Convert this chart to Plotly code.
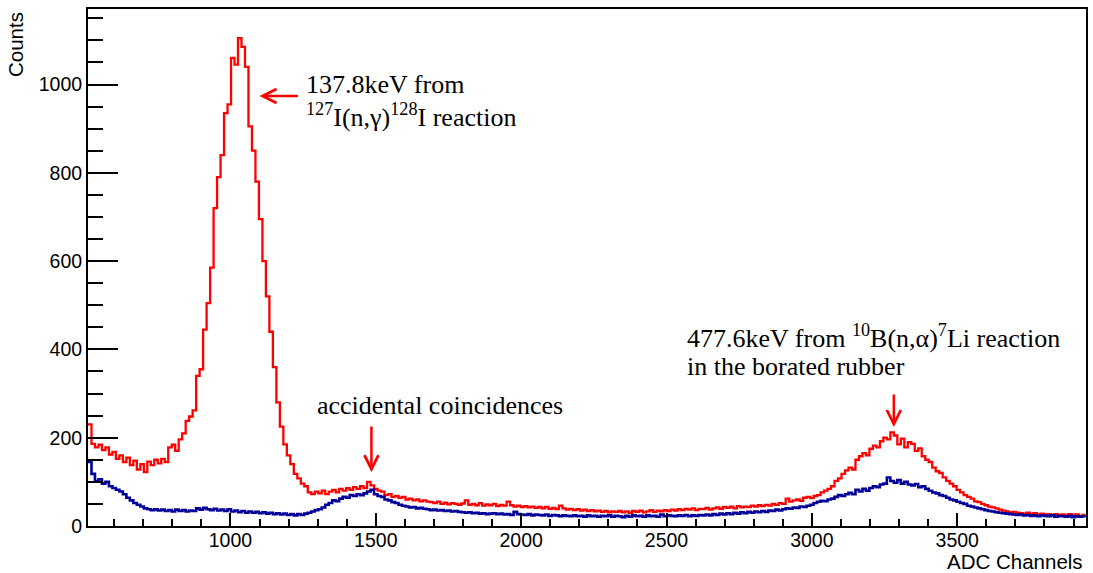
import plotly.graph_objects as go

# ---------------- data ----------------
bin_start = 510      # first bin lower edge (ADC channel)
bin_width = 12       # channels per bin

red_counts = [
    230, 186, 178, 184, 172, 178, 162, 168, 152, 160,
    145, 155, 138, 148, 128, 140, 122, 146, 138, 150,
    142, 152, 145, 178, 184, 170, 196, 210, 238, 248,
    262, 340, 355, 445, 505, 585, 720, 790, 840, 935,
    955, 1060, 1045, 1105, 1085, 1040, 905, 850, 780, 695,
    600, 520, 440, 360, 280, 225, 185, 160, 140, 118,
    108, 96, 90, 76, 72, 78, 74, 80, 72, 78,
    82, 76, 84, 80, 86, 82, 88, 84, 90, 86,
    100, 92, 84, 80, 78, 70, 72, 66, 68, 64,
    66, 60, 62, 58, 60, 56, 58, 55, 54, 52,
    55, 50, 53, 49, 52, 50, 48, 51, 58, 48,
    50, 47, 52, 46, 49, 47, 50, 45, 48, 46,
    55, 47, 44, 46, 43, 45, 42, 44, 41, 43,
    40, 43, 39, 41, 38, 46, 40, 37, 39, 36,
    38, 35, 37, 34, 36, 33, 35, 32, 34, 31,
    33, 32, 34, 31, 33, 30, 34, 32, 35, 31,
    33, 36, 32, 35, 33, 36, 34, 37, 35, 38,
    36, 39, 37, 40, 36, 39, 38, 41, 37, 40,
    42, 39, 43, 41, 44, 40, 45, 42, 44, 43,
    46, 44, 47, 45, 48, 46, 50, 48, 52, 50,
    62, 55, 58, 60, 57, 64, 66, 63, 68, 70,
    76, 80, 84, 90, 102, 108, 118, 126, 132, 128,
    150, 158, 165, 160, 175, 182, 178, 192, 200, 196,
    212, 205, 185, 198, 178, 190, 186, 170, 176, 158,
    150, 145, 132, 124, 120, 110, 102, 96, 90, 82,
    76, 70, 66, 62, 56, 54, 50, 47, 44, 42,
    40, 37, 35, 33, 31, 32, 30, 29, 28, 30,
    27, 29, 26, 28, 26, 27, 25, 27, 24, 26,
    25, 27, 24, 26, 23, 25,
]

blue_counts = [
    145, 118, 102, 106, 96, 100, 90, 86, 82, 78,
    72, 64, 58, 52, 48, 44, 40, 38, 36, 38,
    35, 37, 34, 36, 33, 37, 34, 36, 33, 35,
    34, 40, 37, 41, 38, 36, 39, 35, 37, 34,
    38, 33, 35, 31, 34, 30, 33, 30, 32, 29,
    31, 28, 30, 27, 29, 26, 28, 25, 27, 24,
    27, 25, 28, 30, 33, 36, 38, 42, 48, 52,
    58, 56, 62, 66, 64, 70, 68, 72, 70, 74,
    78, 82, 72, 68, 66, 60, 58, 54, 52, 48,
    46, 44, 42, 43, 40, 41, 39, 38, 36, 37,
    35, 36, 34, 35, 33, 34, 32, 31, 30, 31,
    29, 30, 28, 29, 27, 28, 29, 27, 28, 26,
    27, 25, 32, 27, 26, 25, 27, 24, 26, 25,
    24, 26, 23, 25, 24, 22, 24, 23, 22, 24,
    22, 23, 21, 24, 22, 23, 21, 23, 22, 24,
    21, 23, 22, 20, 23, 21, 24, 22, 23, 21,
    24, 22, 23, 21, 26, 22, 24, 23, 22, 24,
    23, 25, 22, 24, 23, 25, 24, 26, 24, 27,
    25, 28, 26, 29, 27, 30, 28, 31, 29, 32,
    30, 33, 31, 34, 32, 35, 34, 37, 35, 38,
    40, 39, 42, 41, 44, 43, 46, 48, 52, 55,
    57, 56, 60, 62, 66, 70, 68, 72, 75, 72,
    82, 78, 84, 80, 86, 90, 88, 94, 96, 110,
    102, 98, 104, 96, 100, 94, 92, 95, 88, 90,
    84, 80, 76, 74, 70, 68, 64, 60, 58, 55,
    52, 50, 46, 44, 42, 40, 38, 36, 34, 33,
    31, 30, 29, 28, 27, 26, 25, 26, 24, 25,
    23, 24, 22, 24, 23, 22, 24, 21, 23, 22,
    21, 23, 20, 22, 21, 22,
]

x_range = [510, 3943]
y_range = [0, 1171]
x_tickvals = [1000, 1500, 2000, 2500, 3000, 3500]
y_tickvals = [0, 200, 400, 600, 800, 1000]

# annotation texts
peak1_text = ["137.8keV from", "<sup>127</sup>I(n,\u03b3)<sup>128</sup>I reaction"]
peak2_text = ["477.6keV from <sup>10</sup>B(n,\u03b1)<sup>7</sup>Li reaction", "in the borated rubber"]
acc_text = "accidental coincidences"

# ---------------- figure ----------------
edges = [bin_start + i * bin_width for i in range(len(red_counts) + 1)]

def step_y(vals):
    return list(vals) + [vals[-1]]

fig = go.Figure()
fig.add_trace(go.Scatter(x=edges, y=step_y(red_counts), mode="lines",
                         line=dict(color="#ff0000", width=2.3, shape="hv"),
                         showlegend=False, hoverinfo="skip"))
fig.add_trace(go.Scatter(x=edges, y=step_y(blue_counts), mode="lines",
                         line=dict(color="#000099", width=2.6, shape="hv"),
                         showlegend=False, hoverinfo="skip"))

serif = "Liberation Serif, Times New Roman, serif"
sans = "Liberation Sans, Arial, Helvetica, sans-serif"
tfont = dict(family=serif, size=26, color="black")

# text annotations
fig.add_annotation(x=1254, y=999, text=peak1_text[0], showarrow=False,
                   xanchor="left", yanchor="middle", font=tfont)
fig.add_annotation(x=1254, y=929, text=peak1_text[1], showarrow=False,
                   xanchor="left", yanchor="middle", font=tfont)
fig.add_annotation(x=2564, y=430, text=peak2_text[0], showarrow=False,
                   xanchor="left", yanchor="middle", font=tfont)
fig.add_annotation(x=2564, y=362, text=peak2_text[1], showarrow=False,
                   xanchor="left", yanchor="middle", font=tfont)
fig.add_annotation(x=1292, y=274, text=acc_text, showarrow=False,
                   xanchor="left", yanchor="middle", font=tfont)

# arrows
arrow_common = dict(xref="x", yref="y", axref="x", ayref="y", text="", showarrow=True,
                    arrowhead=5, arrowsize=1.1, arrowwidth=2.5, arrowcolor="#ff0000", standoff=0)
fig.add_annotation(x=1100, y=974, ax=1237, ay=974, **arrow_common)
fig.add_annotation(x=1485, y=122, ax=1485, ay=229, **arrow_common)
fig.add_annotation(x=3282, y=224, ax=3282, ay=301, **arrow_common)

# axis titles (ROOT style: right/top aligned)
fig.add_annotation(xref="paper", yref="paper", x=0, y=1, xanchor="right", yanchor="top",
                   xshift=-59, yshift=-1, text="Counts", textangle=-90, showarrow=False,
                   font=dict(family=sans, size=20.5, color="black"))
fig.add_annotation(xref="paper", yref="paper", x=1, y=0, xanchor="right", yanchor="middle",
                   xshift=-1, yshift=-35, text="ADC Channels", showarrow=False,
                   font=dict(family=sans, size=20.5, color="black"))

fig.update_xaxes(range=x_range, tickvals=x_tickvals, ticks="inside", ticklen=13, tickwidth=2,
                 tickcolor="black", showline=True, linecolor="black", linewidth=2, mirror=True,
                 showgrid=False, zeroline=False, ticklabelstandoff=-4,
                 minor=dict(dtick=100, tick0=0, ticks="inside", ticklen=7, tickwidth=2, tickcolor="black"),
                 tickfont=dict(family=sans, size=19.5, color="black"))
fig.update_yaxes(range=y_range, tickvals=y_tickvals, ticks="inside", ticklen=30, tickwidth=2,
                 tickcolor="black", showline=True, linecolor="black", linewidth=2, mirror=True,
                 showgrid=False, zeroline=False,
                 minor=dict(dtick=50, tick0=0, ticks="inside", ticklen=15, tickwidth=2, tickcolor="black"),
                 tickfont=dict(family=sans, size=19.5, color="black"))

fig.update_layout(width=1093, height=573, margin=dict(l=88, r=5, t=9, b=47),
                  plot_bgcolor="white", paper_bgcolor="white", showlegend=False)

fig.write_html("out.html", config={"displayModeBar": False},
               post_script="document.body.style.margin='0';")
